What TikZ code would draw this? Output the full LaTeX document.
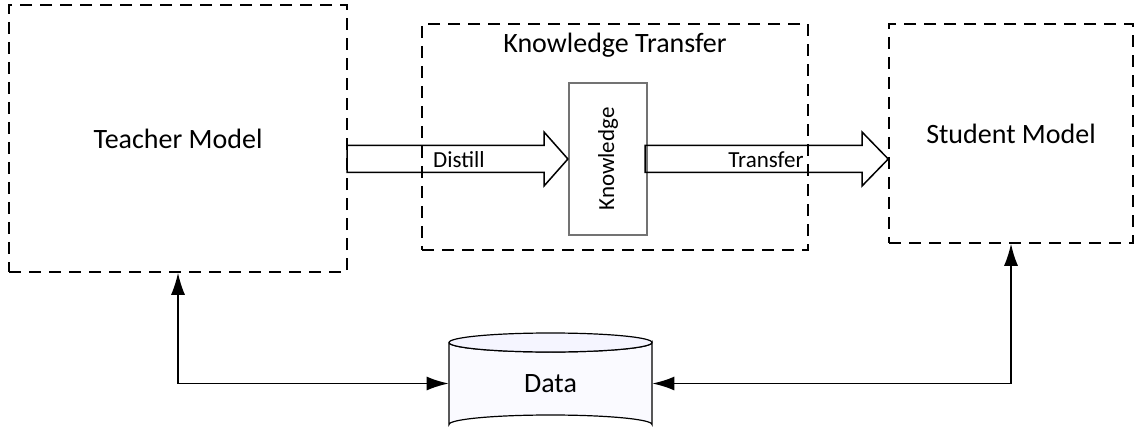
\documentclass[tikz,border=0pt]{standalone}
\usepackage{fontspec}
\setmainfont{Carlito}
\usepackage{tikz}
\usetikzlibrary{arrows.meta}

\begin{document}
\begin{tikzpicture}[x=0.5pt,y=-0.5pt,
    dashbox/.style={draw,line width=0.75pt,dash pattern=on 6pt off 4pt,inner sep=0pt},
    bigarrow/.style={draw,line width=0.75pt},
    link/.style={line width=0.75pt,{Latex[length=11pt,width=7pt]}-{Latex[length=11pt,width=7pt]}},
    big/.style={font=\fontsize{14}{16}\selectfont},
    small/.style={font=\fontsize{11.5}{13}\selectfont}]
  \useasboundingbox (0,0) rectangle (1138,438);

  % Draw boxes
  \node[dashbox,big,minimum width=169pt,minimum height=133.5pt] (teacher) at (178,138.5) {Teacher Model};
  \node[dashbox,minimum width=193pt,minimum height=113pt] (kt) at (615,137) {};
  \node[big,anchor=base] (kttitle) at (615,53) {Knowledge Transfer};
  \node[dashbox,big,minimum width=122pt,minimum height=109.5pt] (student) at (1011,133.5) {Student Model};

  % Knowledge box
  \node[draw=black!55,line width=1.1pt,minimum width=39pt,minimum height=76pt,inner sep=0pt] (kn) at (608,159) {};
  \node[small,rotate=90] (knlabel) at (kn.center) {Knowledge};

  % Block arrows
  \draw[bigarrow] (347,145.5) -- (544,145.5) -- (544,132) -- (kn.west) -- (544,186) -- (544,172.5) -- (347,172.5) -- cycle;
  \node[small] (distill) at (459,159.5) {Distill};
  \draw[bigarrow] (645,145.5) -- (862,145.5) -- (862,132) -- (student.west |- kn.west) -- (862,186) -- (862,172.5) -- (645,172.5) -- cycle;
  \node[small] (transfer) at (766,159.5) {Transfer};

  % Data cylinder
  \node[minimum width=101.5pt,minimum height=50.5pt,inner sep=0pt] (data) at (550.5,383.5) {};
  \draw[line width=0.6pt,fill=blue!2] (449,342.5) -- (449,424.5) arc[start angle=180,end angle=360,x radius=101.5,y radius=9.5]
    -- (652,342.5) arc[start angle=0,end angle=180,x radius=101.5,y radius=9.5];
  \draw[line width=0.6pt,fill=blue!4] (550.5,342.5) ellipse[x radius=101.5,y radius=9.5];
  \node[big] (datalabel) at (550.5,383.5) {Data};

  % Connect data with models
  \draw[link] (teacher.south) |- (data.west);
  \draw[link] (student.south) |- (data.east);
\end{tikzpicture}
\end{document}
